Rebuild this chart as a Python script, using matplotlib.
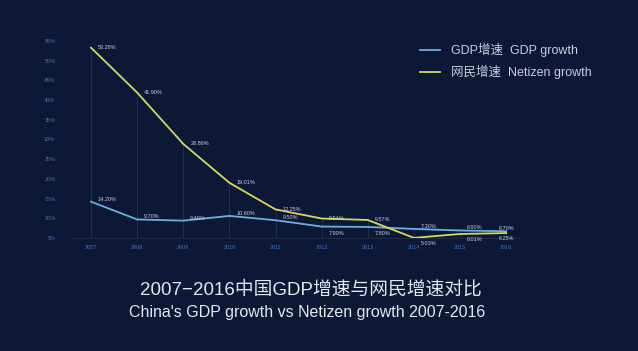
import matplotlib
matplotlib.use("Agg")
import matplotlib.pyplot as plt
from matplotlib.lines import Line2D

plt.rcParams['font.family'] = ['Liberation Sans', 'Noto Sans CJK SC', 'DejaVu Sans']

years = [2007, 2008, 2009, 2010, 2011, 2012, 2013, 2014, 2015, 2016]
gdp = [14.20, 9.70, 9.40, 10.60, 9.50, 7.90, 7.80, 7.30, 6.90, 6.70]
netizen = [53.28, 41.90, 28.86, 19.01, 12.25, 9.94, 9.57, 5.03, 6.01, 6.25]
yticks = [5, 10, 15, 20, 25, 30, 35, 40, 45, 50, 55]
# label placement: 1 = above, -1 = below
gdp_pos = [1, 1, 1, 1, 1, -1, -1, 1, 1, 1]
net_pos = [1, 1, 1, 1, 1, 1, 1, -1, -1, -1]

bg = '#0d1736'
fig = plt.figure(figsize=(6.38, 3.51), dpi=100)
fig.patch.set_facecolor(bg)
ax = fig.add_axes([0.113, 0.322, 0.702, 0.570])
ax.set_facecolor(bg)

gdp_c = '#6cb0e0'
net_c = '#d6d85a'

for x, g, n in zip(years, gdp, netizen):
    ax.plot([x, x], [5, max(g, n)], color='#26335a', lw=0.6, zorder=1)

ax.plot(years, gdp, color=gdp_c, lw=1.3, zorder=3)
ax.plot(years, netizen, color=net_c, lw=1.3, zorder=3)

lab_c = '#c9cfdf'
n = len(years)
for i, (x, v, p) in enumerate(zip(years, gdp, gdp_pos)):
    last = i == n - 1
    ax.annotate(f'{v:.2f}%', (x, v), xytext=(0 if last else 5, 1.8 if p > 0 else -3),
                textcoords='offset points', fontsize=4, color=lab_c,
                ha='center' if last else 'left', va='center' if p > 0 else 'top')
for i, (x, v, p) in enumerate(zip(years, netizen, net_pos)):
    last = i == n - 1
    ax.annotate(f'{v:.2f}%', (x, v), xytext=(0 if last else 5, 0 if p > 0 else -2),
                textcoords='offset points', fontsize=4, color=lab_c,
                ha='center' if last else 'left', va='center' if p > 0 else 'top')

ax.set_xlim(2006.59, 2016.3)
ax.set_ylim(5, 55.76)
ax.set_xticks(years)
ax.set_xticklabels([str(y) for y in years])
ax.set_yticks(yticks)
ax.set_yticklabels([f'{t}%' for t in yticks])
ax.tick_params(axis='both', length=0, labelsize=4, colors='#4274b8')
ax.tick_params(axis='x', pad=5)
ax.tick_params(axis='y', pad=12)
for s in ['top', 'right', 'left']:
    ax.spines[s].set_visible(False)
ax.spines['bottom'].set_color('#243152')
ax.spines['bottom'].set_linewidth(0.6)

handles = [Line2D([], [], color=gdp_c, lw=1.3), Line2D([], [], color=net_c, lw=1.3)]
leg = fig.legend(handles, ['GDP增速  GDP growth', '网民增速  Netizen growth'],
                 loc='upper left', bbox_to_anchor=(0.64, 0.91), frameon=False,
                 fontsize=9, labelcolor='#c8cedd', handlelength=1.6,
                 handletextpad=0.9, labelspacing=0.65)

fig.text(0.488, 0.175, '2007−2016中国GDP增速与网民增速对比', ha='center', va='center',
         fontsize=13.5, color='#e4e7ee')
fig.text(0.482, 0.11, "China's GDP growth vs Netizen growth 2007-2016", ha='center', va='center',
         fontsize=11.5, color='#e4e7ee')

fig.savefig('out.png', dpi=100, facecolor=bg)
